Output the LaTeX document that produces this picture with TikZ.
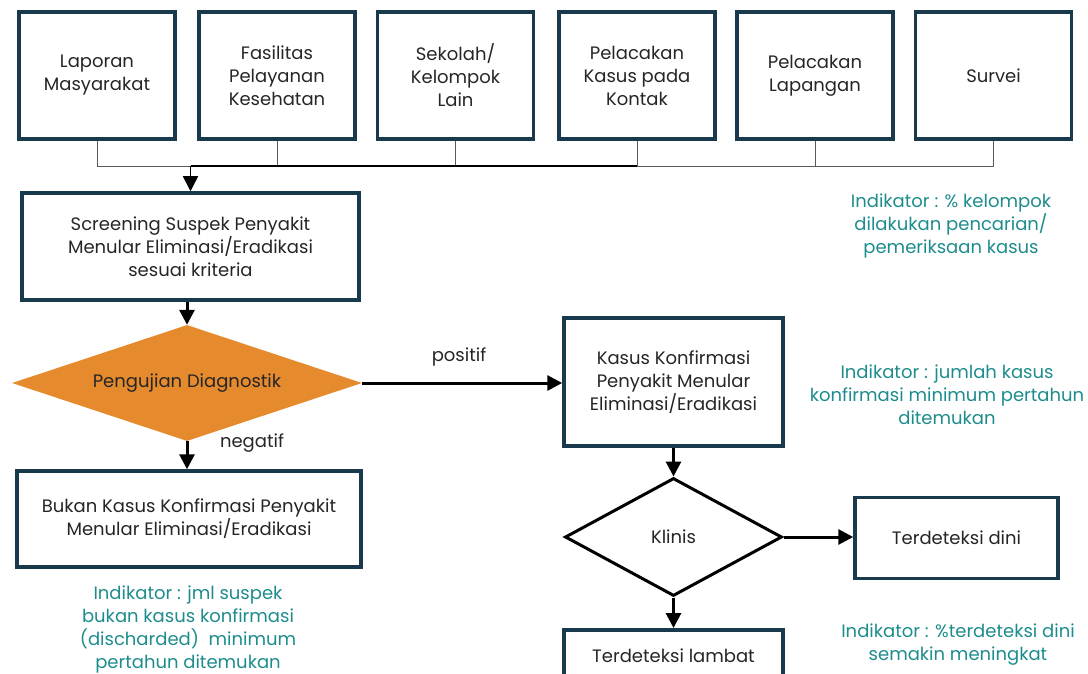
\documentclass[tikz,border=0pt]{standalone}
\usepackage{fontspec}
\setmainfont{Poppins}
\usetikzlibrary{shapes.geometric,arrows.meta}
\definecolor{boxline}{RGB}{24,58,76}
\definecolor{teal}{RGB}{30,140,140}
\definecolor{orng}{RGB}{230,138,46}
\definecolor{busgray}{RGB}{90,90,90}
\begin{document}
\begin{tikzpicture}[x=1pt,y=-1pt,
  box/.style={draw=boxline,line width=3.5pt,fill=white,align=center,inner sep=2pt,
    font=\fontsize{18}{23}\selectfont,text=black!85},
  topbox/.style={box,minimum width=156,minimum height=127},
  ind/.style={align=center,text=teal,font=\fontsize{18}{23}\selectfont},
  lbl/.style={font=\fontsize{18}{20}\selectfont,text=black!85},
  arr/.style={line width=3pt,-{Triangle[length=15pt,width=15pt]}},
  bus/.style={draw=busgray,line width=0.8pt}]
\useasboundingbox (0,0) rectangle (1088,674);
% top boxes
\node[topbox] (t1) at (97,75.5) {Laporan\\Masyarakat};
\node[topbox] (t2) at (277,75.5) {Fasilitas\\Pelayanan\\Kesehatan};
\node[topbox] (t3) at (455.5,75.5) {Sekolah/\\Kelompok\\Lain};
\node[topbox] (t4) at (637,75.5) {Pelacakan\\Kasus pada\\Kontak};
\node[topbox] (t5) at (815,75.5) {Pelacakan\\Lapangan};
\node[topbox] (t6) at (993.5,75.5) {Survei};
% bus coordinates
\coordinate (b1) at (97,166);
\coordinate (b2) at (277,166);
\coordinate (b3) at (455.5,166);
\coordinate (b4) at (637,166);
\coordinate (b5) at (815,166);
\coordinate (b6) at (993.5,166);
\coordinate (bj) at (190.5,166);
\draw[bus] (t1.south) -- (b1);
\draw[bus] (t2.south) -- (b2);
\draw[bus] (t3.south) -- (b3);
\draw[bus] (t4.south) -- (b4);
\draw[bus] (t5.south) -- (b5);
\draw[bus] (t6.south) -- (b6);
\draw[bus] (b1) -- (b6);
\draw[line width=1.6pt] (bj) -- (b4);
% screening
\node[box,minimum width=337,minimum height=107] (scr) at (190.5,246.5)
  {Screening Suspek Penyakit\\Menular Eliminasi/Eradikasi\\sesuai kriteria};
\draw[line width=1.6pt,-{Triangle[length=15pt,width=15pt]}] (bj) -- (scr.north);
% diagnostic diamond
\node[diamond,fill=orng,draw=none,minimum width=350,minimum height=116,inner sep=0pt,
  aspect=3,font=\fontsize{18}{20}\selectfont,text=black!85] (dia) at (187,383) {Pengujian Diagnostik};
\draw[arr] (scr.south -| dia.north) -- (dia.north);
% negative branch
\node[box,minimum width=344,minimum height=96] (bukan) at (189,519)
  {Bukan Kasus Konfirmasi Penyakit\\Menular Eliminasi/Eradikasi};
\draw[arr] (dia.south) -- (dia.south |- bukan.north);
\node[lbl] (neg) at (252,443) {negatif};
\node[ind] (ind1) at (188,629) {Indikator : jml suspek\\bukan kasus konfirmasi\\(discharded) \ minimum\\pertahun ditemukan};
% positive branch
\node[box,minimum width=219,minimum height=128] (kasus) at (673.5,382)
  {Kasus Konfirmasi\\Penyakit Menular\\Eliminasi/Eradikasi};
\draw[arr] (dia.east) -- (dia.east -| kasus.west);
\node[lbl] (pos) at (459,357) {positif};
% klinis
\node[diamond,fill=white,draw=black,line width=3pt,minimum width=217,minimum height=118,
  inner sep=0pt,aspect=1.8,font=\fontsize{18}{20}\selectfont,text=black!85] (kl) at (673.5,537) {Klinis};
\draw[arr] (kasus.south) -- (kl.north);
\node[box,minimum width=203,minimum height=81] (dini) at (956.5,538) {Terdeteksi dini};
\draw[arr] (kl.east) -- (kl.east -| dini.west);
\node[box,minimum width=219,minimum height=52,anchor=north] (lambat) at (673.5,628) {Terdeteksi lambat};
\draw[arr] (kl.south) -- (lambat.north);
% indicators right
\node[ind] (ind2) at (951,226) {Indikator : \% kelompok\\dilakukan pencarian/\\pemeriksaan kasus};
\node[ind] (ind3) at (947,395) {Indikator : jumlah kasus\\konfirmasi minimum pertahun\\ditemukan};
\node[ind] (ind4) at (958,645) {Indikator : \%terdeteksi dini\\semakin meningkat};
\end{tikzpicture}
\end{document}
